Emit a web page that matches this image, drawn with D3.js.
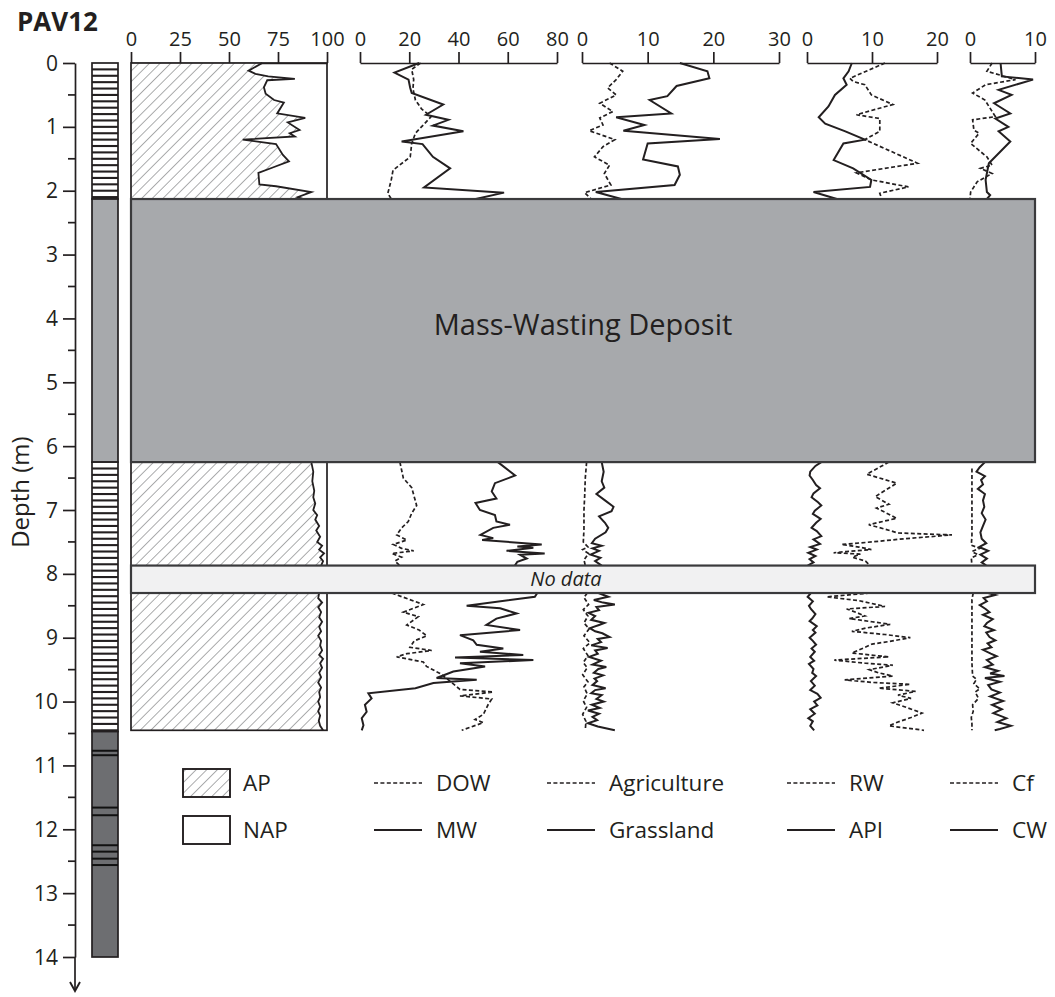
<!DOCTYPE html>
<html>
<head>
<meta charset="utf-8">
<script src="https://cdn.jsdelivr.net/npm/d3@7"></script>
<style>
  body { margin: 0; background: #fff; }
  svg { display: block; }
  text { font-family: "Open Sans", "Noto Sans", sans-serif; fill: #231f20; }
</style>
</head>
<body>
<svg id="chart" width="1055" height="997"></svg>
<script>
// ---- Core PAV12: depth (m) and percentage values ----
const coreName = "PAV12";
const depthTicks = d3.range(0, 15, 1);
const depthMinorTicks = d3.range(0.5, 14, 1);

// stratigraphic sections with pollen data, mass-wasting unit, gap
const sections = [[0, 2.13], [6.25, 7.87], [8.3, 10.45]];
const massWasting = [2.13, 6.25];
const noData = [7.87, 8.3];

// lithology units: [top, bottom, type]
const lithoUnits = [[0, 2.13, "laminated"], [2.13, 6.25, "mass"], [6.25, 10.47, "laminated"], [10.47, 14.0, "dark"]];
const darkBands = [10.77, 10.84, 11.66, 11.78, 12.25, 12.35, 12.46, 12.56];

// AP (%) — arboreal pollen
const apUpper = [[0,67],[0.12,60],[0.17,63.5],[0.21,70],[0.25,83.6],[0.27,69.5],[0.38,67.8],[0.48,68.7],[0.58,73],[0.62,78],[0.79,74.6],[0.86,88.9],[0.93,80],[1.05,86],[1.1,81],[1.15,83.6],[1.2,57],[1.27,74],[1.44,77.5],[1.54,80.6],[1.64,72],[1.72,65],[1.9,65.5],[1.93,74],[2.02,92],[2.1,85],[2.13,88]];
const apLower1 = [[6.25,92],[6.4,93],[6.55,92.5],[6.7,93.5],[6.8,93],[6.9,94],[7.0,93],[7.08,95],[7.15,94],[7.25,96],[7.32,94.5],[7.42,96.5],[7.5,95],[7.56,97.5],[7.62,96],[7.68,98.5],[7.74,96.5],[7.8,98],[7.87,97]];
const apLower2 = [[8.3,96],[8.38,95.5],[8.45,97.5],[8.52,95.5],[8.6,97],[8.68,96],[8.75,97.5],[8.83,96],[8.9,97],[8.97,95.5],[9.05,97],[9.12,96.5],[9.2,97.5],[9.27,96],[9.33,98],[9.4,96.5],[9.47,97.5],[9.55,96],[9.62,97],[9.7,95.5],[9.78,97],[9.85,96],[9.93,96.5],[10.0,95.5],[10.08,96.5],[10.15,95.5],[10.22,96.5],[10.3,95.8],[10.38,96.5],[10.45,98]];

// DOW / MW (%)
const dowUpper = [[0,24.6],[0.1,21],[0.26,21.8],[0.4,21.5],[0.58,22.5],[0.72,25],[0.84,28.9],[1.1,22.5],[1.26,21],[1.47,20.4],[1.68,13.4],[1.83,12.7],[2.04,11.3],[2.13,12.7]];
const mwUpper = [[0,24],[0.15,14],[0.26,19.7],[0.39,20.4],[0.47,21],[0.65,33.8],[0.81,26.8],[0.89,35.9],[0.98,29.6],[1.07,42],[1.23,16.9],[1.27,25.4],[1.47,29.6],[1.65,36.6],[1.95,26],[2.03,58.5],[2.13,47]];
const dowLower1 = [[6.25,16.2],[6.5,17.6],[6.65,21],[6.93,23],[7.05,21],[7.18,19.6],[7.28,16.9],[7.39,14.9],[7.47,19],[7.54,13.5],[7.6,16.9],[7.64,21.8],[7.68,12.9],[7.74,16.9],[7.8,14.2],[7.87,16.2]];
const mwLower1 = [[6.25,56],[6.46,63],[6.58,54.8],[6.71,53.5],[6.82,55.4],[6.89,46.9],[7.0,48.7],[7.08,54.8],[7.18,55.4],[7.23,60.9],[7.28,54.1],[7.39,48.9],[7.44,54.1],[7.47,49.6],[7.54,73.8],[7.57,63.9],[7.59,70.4],[7.64,59.5],[7.68,75],[7.7,65],[7.76,67.7],[7.81,63.9],[7.87,62.9]];
const dowLower2 = [[8.3,12.9],[8.4,20],[8.48,25.7],[8.6,17.6],[8.67,23.7],[8.8,19],[8.88,24],[8.97,27.1],[9.05,22],[9.15,20.3],[9.2,29.1],[9.25,19],[9.3,14.9],[9.38,25.7],[9.45,27],[9.56,32.5],[9.66,35.9],[9.81,40.6],[9.85,54.1],[9.91,40.6],[9.96,53.5],[10.05,52],[10.2,50.1],[10.28,46.7],[10.33,50.1],[10.45,41.3]];
const mwLower2 = [[8.3,72],[8.36,71],[8.5,43.3],[8.54,56.9],[8.62,63.6],[8.7,55.4],[8.8,51.3],[8.88,65],[8.96,40.6],[9.04,46],[9.11,47.4],[9.17,58.2],[9.22,48.7],[9.27,66.3],[9.31,38.6],[9.35,70.4],[9.4,40.6],[9.45,50.8],[9.53,37.9],[9.63,31.1],[9.66,47.4],[9.71,29.8],[9.79,22.5],[9.87,3.4],[9.95,4.7],[10.05,2],[10.16,2.7],[10.26,0.7],[10.37,1.4],[10.45,0.7]];

// Agriculture / Grassland (%)
const agriUpper = [[0,4.2],[0.13,6.2],[0.26,5.2],[0.39,3.9],[0.5,5.2],[0.63,2.7],[0.76,4.7],[0.86,2.7],[0.97,3.2],[1.06,1.1],[1.2,5],[1.31,3.2],[1.47,1.9],[1.6,4.2],[1.73,3.4],[1.91,4.4],[2.03,0.4],[2.13,1.4]];
const grassUpper = [[0,14.9],[0.13,19.1],[0.24,19.4],[0.36,14.4],[0.52,13],[0.58,10.3],[0.79,13.6],[0.85,5.2],[0.97,9.5],[1.06,6.3],[1.19,21],[1.26,10],[1.51,9.3],[1.62,14.6],[1.75,14.9],[1.91,14.1],[2.02,2.1],[2.13,6]];
const agriLower1 = [[6.25,0.7],[6.5,0.5],[6.8,0.4],[7.0,0.3],[7.3,0.3],[7.5,0.2],[7.58,0.9],[7.62,0.1],[7.68,1.0],[7.78,0.3],[7.87,0.5]];
const grassLower1 = [[6.25,3.0],[6.4,3.3],[6.55,3.0],[6.65,3.4],[6.75,2.2],[6.85,3.5],[6.95,4.8],[7.02,4.5],[7.1,2.6],[7.2,3.5],[7.28,4.0],[7.35,3.6],[7.45,2.0],[7.52,1.5],[7.56,3.0],[7.6,1.6],[7.64,2.6],[7.7,1.3],[7.75,2.8],[7.8,2.0],[7.87,3.0]];
const agriLower2 = [[8.3,0.8],[8.37,0.3],[8.48,1.0],[8.56,0.2],[8.66,0.9],[8.77,0.3],[8.86,1.1],[8.97,0.3],[9.08,1.2],[9.17,0.2],[9.28,0.9],[9.39,0.2],[9.47,0.8],[9.58,0.1],[9.69,0.9],[9.77,0.3],[9.88,0.8],[9.99,0.2],[10.09,0.7],[10.2,0.1],[10.31,0.6],[10.45,0.5]];
const grassLower2 = [[8.3,2.5],[8.36,4.0],[8.41,1.8],[8.45,3.2],[8.48,5.0],[8.52,2.2],[8.57,2.6],[8.61,1.0],[8.66,2.0],[8.72,1.4],[8.77,3.4],[8.8,2.6],[8.85,1.2],[8.9,2.0],[8.93,3.1],[8.99,4.2],[9.02,2.4],[9.07,2.9],[9.12,1.4],[9.16,3.9],[9.2,2.0],[9.25,2.4],[9.3,1.1],[9.36,2.9],[9.42,1.6],[9.46,3.7],[9.49,2.5],[9.55,1.8],[9.59,3.2],[9.64,1.9],[9.68,2.3],[9.74,1.6],[9.79,3.6],[9.82,2.0],[9.87,1.4],[9.9,3.0],[9.96,2.2],[10.0,3.3],[10.05,1.5],[10.1,2.7],[10.14,0.9],[10.19,2.6],[10.24,1.6],[10.29,2.3],[10.34,0.9],[10.39,2.4],[10.45,5.0]];

// RW / API (%)
const rwUpper = [[0,12],[0.24,6.6],[0.29,7.1],[0.34,8.9],[0.5,9.9],[0.65,13.2],[0.81,7.6],[0.87,11.2],[1.07,11.2],[1.2,8.9],[1.57,17],[1.72,7.6],[1.83,9.9],[1.94,15.6],[2.04,11.2],[2.13,11.5]];
const apiUpper = [[0,6.9],[0.13,6.4],[0.24,5.6],[0.34,6.1],[0.5,4.3],[0.68,3.3],[0.85,1.8],[0.95,2.8],[1.07,5.9],[1.2,8.9],[1.26,5.6],[1.52,4.1],[1.65,7.1],[1.83,9.9],[1.94,9.7],[2.02,1],[2.13,4.6]];
const rwLower1 = [[6.25,12.6],[6.44,9.2],[6.58,13.8],[6.79,10.5],[6.91,12.6],[6.97,10.7],[7.13,13.8],[7.23,9.5],[7.3,12],[7.36,14],[7.39,22.3],[7.45,15],[7.5,10],[7.54,5.3],[7.58,8],[7.62,9.9],[7.65,6],[7.67,4.1],[7.69,8.2],[7.74,7],[7.8,9],[7.87,9.7]];
const apiLower1 = [[6.25,2.2],[6.31,1.3],[6.4,0.5],[6.46,0.4],[6.53,0.9],[6.61,1.4],[6.66,2.0],[6.74,1.0],[6.8,0.7],[6.88,1.7],[6.93,2.2],[7.01,1.2],[7.06,0.9],[7.14,2.1],[7.2,1.4],[7.28,0.7],[7.33,1.5],[7.41,2.2],[7.46,1.0],[7.53,2.0],[7.58,0.5],[7.62,1.5],[7.67,0.2],[7.72,1.3],[7.77,0.4],[7.82,1.0],[7.87,0.1]];
const rwLower2 = [[8.3,9.7],[8.36,3.0],[8.42,8],[8.51,12],[8.55,6.1],[8.6,7.5],[8.66,8.9],[8.7,6.5],[8.75,10],[8.79,12.8],[8.85,9],[8.9,6.9],[8.95,12],[9.0,15.9],[9.06,12.6],[9.1,10],[9.16,8.7],[9.24,6.9],[9.3,12.6],[9.35,4.2],[9.4,9],[9.43,13.2],[9.5,9.6],[9.55,11],[9.6,13.2],[9.66,5.8],[9.7,10],[9.73,15.9],[9.79,11],[9.84,16.7],[9.9,14],[9.95,16],[10.02,13.2],[10.08,15],[10.18,17.7],[10.25,16],[10.32,14],[10.38,12.6],[10.45,18]];
const apiLower2 = [[8.3,0.6],[8.36,0.1],[8.43,0.9],[8.5,0.3],[8.55,0.6],[8.63,1.3],[8.7,0.8],[8.74,0.4],[8.82,1.5],[8.88,0.9],[8.92,1.3],[9.0,0.4],[9.05,0.9],[9.11,1.4],[9.17,0.7],[9.22,1.2],[9.3,0.5],[9.36,1.1],[9.41,0.3],[9.49,1.0],[9.55,0.8],[9.6,1.4],[9.68,0.6],[9.75,1.2],[9.82,0.5],[9.88,1.6],[9.94,2.1],[10.0,1.1],[10.06,1.6],[10.12,0.5],[10.19,1.2],[10.26,0.2],[10.31,0.9],[10.38,0.5],[10.45,1.1]];

// Cf / CW (%)
const cfUpper = [[0,3.4],[0.13,2.6],[0.26,7],[0.34,2.4],[0.47,0.4],[0.58,2.3],[0.84,3.9],[0.89,0.4],[1.05,0.6],[1.1,1.4],[1.26,0.1],[1.47,2.6],[1.6,3.4],[1.65,1.6],[1.73,3.4],[1.86,1.1],[2.02,0.1],[2.13,0]];
const cwUpper = [[0,4.7],[0.21,4.9],[0.26,9.7],[0.42,4.4],[0.5,6.4],[0.63,3.7],[0.79,6.2],[0.87,3.9],[1.0,5.9],[1.07,4.4],[1.23,6.2],[1.57,2.9],[1.83,2.4],[2.02,2.6],[2.07,3.1],[2.13,2.6]];
const cfLower1 = [[6.35,0.3],[6.6,0.3],[7.0,0.3],[7.4,0.3],[7.55,0.2],[7.6,1.5],[7.65,0.3],[7.7,1.2],[7.75,0.2],[7.87,0.3]];
const cwLower1 = [[6.25,2.3],[6.33,1.5],[6.4,1.0],[6.47,2.3],[6.53,1.7],[6.6,2.0],[6.67,1.2],[6.75,2.3],[6.85,2.0],[6.95,2.2],[7.05,1.8],[7.15,2.4],[7.25,2.0],[7.35,1.6],[7.45,1.8],[7.52,2.5],[7.58,1.4],[7.64,2.8],[7.7,1.6],[7.76,2.6],[7.82,1.8],[7.87,2.5]];
const cfLower2 = [[8.3,0.5],[8.4,0.3],[8.6,0.3],[9.0,0.3],[9.4,0.3],[9.6,0.4],[9.65,1.0],[9.72,0.6],[9.8,1.5],[9.85,0.8],[9.95,1.3],[10.05,0.4],[10.15,0.5],[10.25,0.2],[10.35,0.3],[10.45,0.3]];
const cwLower2 = [[8.3,2.8],[8.33,3.9],[8.38,2.1],[8.43,2.6],[8.49,1.5],[8.55,2.4],[8.6,3.0],[8.64,2.0],[8.71,3.5],[8.77,2.6],[8.82,2.2],[8.88,3.7],[8.92,2.5],[8.99,3.0],[9.04,3.9],[9.09,2.7],[9.15,3.3],[9.19,2.0],[9.25,3.2],[9.29,4.1],[9.35,2.6],[9.42,3.5],[9.46,2.3],[9.52,4.3],[9.56,3.1],[9.6,5.3],[9.63,2.3],[9.69,4.6],[9.74,2.8],[9.81,3.3],[9.86,4.6],[9.92,3.1],[9.99,5.1],[10.05,3.4],[10.12,4.9],[10.18,3.6],[10.26,5.6],[10.32,4.2],[10.38,6.3],[10.43,4.6],[10.45,3.8]];

// axis ticks per panel
const apTicks = [0, 25, 50, 75, 100];
const dowTicks = [0, 20, 40, 60, 80];
const agriTicks = [0, 10, 20, 30];
const rwTicks = [0, 10, 20];
const cfTicks = [0, 10];

// legend entries
const legendPairs = [["DOW", "MW"], ["Agriculture", "Grassland"], ["RW", "API"], ["Cf", "CW"]];

// ---- drawing ----
const svg = d3.select("#chart");
const ink = "#231f20";
const dash = "4,2.4";

const y = d3.scaleLinear().domain([0, 14]).range([63, 957]);

const panelDefs = [
  { ticks: apTicks, range: [131, 327] },
  { ticks: dowTicks, range: [360, 557], dashed: [dowUpper, dowLower1, dowLower2], solid: [mwUpper, mwLower1, mwLower2] },
  { ticks: agriTicks, range: [582, 779], dashed: [agriUpper, agriLower1, agriLower2], solid: [grassUpper, grassLower1, grassLower2] },
  { ticks: rwTicks, range: [807, 937], dashed: [rwUpper, rwLower1, rwLower2], solid: [apiUpper, apiLower1, apiLower2] },
  { ticks: cfTicks, range: [970, 1035], dashed: [cfUpper, cfLower1, cfLower2], solid: [cwUpper, cwLower1, cwLower2] }
];
panelDefs.forEach(p => {
  p.x = d3.scaleLinear().domain([p.ticks[0], p.ticks[p.ticks.length - 1]]).range(p.range);
});

// hatch pattern for AP
const defs = svg.append("defs");
const pat = defs.append("pattern").attr("id", "hatch").attr("patternUnits", "userSpaceOnUse")
  .attr("width", 7.5).attr("height", 7.5).attr("patternTransform", "rotate(45)");
pat.append("rect").attr("width", 7.5).attr("height", 7.5).attr("fill", "#fff");
pat.append("line").attr("x1", 0).attr("y1", 0).attr("x2", 0).attr("y2", 7.5)
  .attr("stroke", "#58595b").attr("stroke-width", 1);

// title
svg.append("text").attr("x", 17).attr("y", 31).attr("font-size", 26).attr("font-weight", 700)
  .text(coreName);

// depth axis
const depthAxis = d3.axisLeft(y).tickValues(depthTicks).tickSize(12).tickPadding(5).tickSizeOuter(0);
const gD = svg.append("g").attr("transform", "translate(75,0)").call(depthAxis);
gD.selectAll("text").attr("font-size", 21).attr("fill", ink).attr("dy", "0.34em")
  .style("font-family", '"Open Sans", sans-serif');
gD.selectAll("line, path").attr("stroke", ink).attr("stroke-width", 1.7);
gD.selectAll(".minor").data(depthMinorTicks).enter().append("line")
  .attr("x1", -7).attr("x2", 0).attr("y1", d => y(d)).attr("y2", d => y(d))
  .attr("stroke", ink).attr("stroke-width", 1.7);
gD.append("line").attr("x1", 0).attr("x2", 0).attr("y1", y(14)).attr("y2", y(14) + 32)
  .attr("stroke", ink).attr("stroke-width", 1.7);
gD.append("path").attr("d", `M-5,${y(14) + 25} L0,${y(14) + 34} L5,${y(14) + 25}`)
  .attr("fill", "none").attr("stroke", ink).attr("stroke-width", 1.9);
svg.append("text").attr("transform", `translate(29,${y(6.72)}) rotate(-90)`)
  .attr("text-anchor", "middle").attr("font-size", 24).text("Depth (m)");

// lithology column
const litho = svg.append("g");
const colX = 92, colW = 26;
lithoUnits.forEach(([top, bot, type]) => {
  const fill = type === "mass" ? "#a7a9ac" : type === "dark" ? "#6d6e71" : "#fff";
  litho.append("rect").attr("x", colX).attr("y", y(top)).attr("width", colW).attr("height", y(bot) - y(top))
    .attr("fill", fill).attr("stroke", ink).attr("stroke-width", 1.7);
  if (type === "laminated") {
    d3.range(top + 0.1, bot - 0.02, 0.1).forEach(d => {
      litho.append("line").attr("x1", colX).attr("x2", colX + colW).attr("y1", y(d)).attr("y2", y(d))
        .attr("stroke", ink).attr("stroke-width", 2.1);
    });
  }
});
darkBands.forEach(d => {
  litho.append("line").attr("x1", colX).attr("x2", colX + colW).attr("y1", y(d)).attr("y2", y(d))
    .attr("stroke", "#111").attr("stroke-width", 2);
});

// top axes
panelDefs.forEach(p => {
  const ax = d3.axisTop(p.x).tickValues(p.ticks).tickSize(11).tickPadding(6).tickSizeOuter(0);
  const g = svg.append("g").attr("transform", `translate(0,${y(0)})`).call(ax);
  g.selectAll("text").attr("font-size", 20).attr("fill", ink)
    .style("font-family", '"Open Sans", sans-serif');
  g.selectAll("line, path").attr("stroke", ink).attr("stroke-width", 1.7);
});

// AP / NAP panel
const pAP = panelDefs[0];
const apArea = d3.area().x0(pAP.x(0)).x1(d => pAP.x(d[1])).y(d => y(d[0]));
const curve = (x) => d3.line().x(d => x(d[1])).y(d => y(d[0]));
[apUpper, apLower1, apLower2].forEach(s => {
  svg.append("path").datum(s).attr("d", apArea).attr("fill", "url(#hatch)");
  svg.append("path").datum(s).attr("d", curve(pAP.x)).attr("fill", "none")
    .attr("stroke", ink).attr("stroke-width", 1.8);
});
[sections[0], [sections[1][0], sections[2][1]]].forEach(([a, b]) => {
  svg.append("rect").attr("x", pAP.x(0)).attr("y", y(a)).attr("width", pAP.x(100) - pAP.x(0))
    .attr("height", y(b) - y(a)).attr("fill", "none").attr("stroke", ink).attr("stroke-width", 1.7);
});

// curve panels
panelDefs.slice(1).forEach(p => {
  p.dashed.forEach(s => svg.append("path").datum(s).attr("d", curve(p.x)).attr("fill", "none")
    .attr("stroke", ink).attr("stroke-width", 1.7).attr("stroke-dasharray", dash));
  p.solid.forEach(s => svg.append("path").datum(s).attr("d", curve(p.x)).attr("fill", "none")
    .attr("stroke", ink).attr("stroke-width", 2));
});

// mass-wasting deposit and no-data boxes
const boxX0 = pAP.x(0), boxX1 = panelDefs[4].x(10);
svg.append("rect").attr("x", boxX0).attr("y", y(massWasting[0])).attr("width", boxX1 - boxX0)
  .attr("height", y(massWasting[1]) - y(massWasting[0]))
  .attr("fill", "#a7a9ac").attr("stroke", "#3a3a3c").attr("stroke-width", 2.2);
svg.append("text").attr("x", (boxX0 + boxX1) / 2).attr("y", y(4.1)).attr("text-anchor", "middle")
  .attr("dy", "0.35em").attr("font-size", 29).text("Mass-Wasting Deposit");
svg.append("rect").attr("x", boxX0).attr("y", y(noData[0])).attr("width", boxX1 - boxX0)
  .attr("height", y(noData[1]) - y(noData[0]))
  .attr("fill", "#f1f1f2").attr("stroke", "#3a3a3c").attr("stroke-width", 2.2);
svg.append("text").attr("x", 566).attr("y", y((noData[0] + noData[1]) / 2))
  .attr("text-anchor", "middle").attr("dy", "0.35em").attr("font-size", 20)
  .attr("font-style", "italic").text("No data");

// legend
const lg = svg.append("g");
const row1 = 783, row2 = 830;
lg.append("rect").attr("x", 183).attr("y", row1 - 14).attr("width", 47).attr("height", 28)
  .attr("fill", "url(#hatch)").attr("stroke", ink).attr("stroke-width", 1.9);
lg.append("rect").attr("x", 183).attr("y", row2 - 14).attr("width", 47).attr("height", 28)
  .attr("fill", "#fff").attr("stroke", ink).attr("stroke-width", 1.9);
lg.append("text").attr("x", 243).attr("y", row1).attr("dy", "0.35em").attr("font-size", 22.5).text("AP");
lg.append("text").attr("x", 243).attr("y", row2).attr("dy", "0.35em").attr("font-size", 22.5).text("NAP");
const legendX = [374, 547, 787, 950];
legendPairs.forEach(([dashName, solidName], i) => {
  const x0 = legendX[i];
  lg.append("line").attr("x1", x0).attr("x2", x0 + 48).attr("y1", row1).attr("y2", row1)
    .attr("stroke", ink).attr("stroke-width", 1.7).attr("stroke-dasharray", dash);
  lg.append("line").attr("x1", x0).attr("x2", x0 + 48).attr("y1", row2).attr("y2", row2)
    .attr("stroke", ink).attr("stroke-width", 1.8);
  lg.append("text").attr("x", x0 + 62).attr("y", row1).attr("dy", "0.35em").attr("font-size", 22.5).text(dashName);
  lg.append("text").attr("x", x0 + 62).attr("y", row2).attr("dy", "0.35em").attr("font-size", 22.5).text(solidName);
});
</script>
</body>
</html>
